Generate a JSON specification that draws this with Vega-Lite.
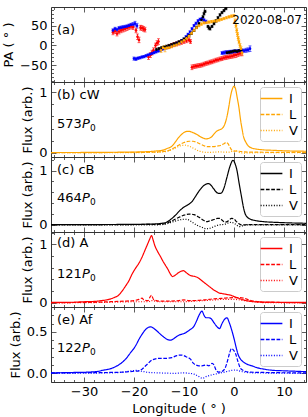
{
"$schema": "https://vega.github.io/schema/vega-lite/v6.json",
"padding": {"left": 2, "top": 3, "right": 4, "bottom": 2},
"bounds": "flush",
"spacing": 0,
"resolve": {"scale": {"strokeDash": "independent", "opacity": "independent", "x": "independent", "y": "independent"}, "legend": {"strokeDash": "independent", "opacity": "independent"}},
"datasets": {
"one": [{}],
"prof": [
{"p":"cW","s":"I","x":-36.6,"y":0.004},{"p":"cW","s":"I","x":-30,"y":0.005},{"p":"cW","s":"I","x":-25,"y":0.008},{"p":"cW","s":"I","x":-20,"y":0.012},{"p":"cW","s":"I","x":-17,"y":0.02},{"p":"cW","s":"I","x":-15.5,"y":0.03},{"p":"cW","s":"I","x":-14.4,"y":0.04},{"p":"cW","s":"I","x":-13.4,"y":0.07},{"p":"cW","s":"I","x":-12.4,"y":0.11},{"p":"cW","s":"I","x":-11.8,"y":0.17},{"p":"cW","s":"I","x":-11.1,"y":0.25},{"p":"cW","s":"I","x":-10.4,"y":0.31},{"p":"cW","s":"I","x":-9.6,"y":0.35},{"p":"cW","s":"I","x":-9.1,"y":0.355},{"p":"cW","s":"I","x":-8.4,"y":0.34},{"p":"cW","s":"I","x":-7.6,"y":0.31},{"p":"cW","s":"I","x":-6.8,"y":0.27},{"p":"cW","s":"I","x":-6.1,"y":0.24},{"p":"cW","s":"I","x":-5.6,"y":0.23},{"p":"cW","s":"I","x":-5,"y":0.24},{"p":"cW","s":"I","x":-4.4,"y":0.27},{"p":"cW","s":"I","x":-3.8,"y":0.33},{"p":"cW","s":"I","x":-3.4,"y":0.36},{"p":"cW","s":"I","x":-2.9,"y":0.38},{"p":"cW","s":"I","x":-2.4,"y":0.4},{"p":"cW","s":"I","x":-1.9,"y":0.46},{"p":"cW","s":"I","x":-1.4,"y":0.6},{"p":"cW","s":"I","x":-1,"y":0.78},{"p":"cW","s":"I","x":-0.7,"y":0.93},{"p":"cW","s":"I","x":-0.3,"y":1.06},{"p":"cW","s":"I","x":0,"y":1.1},{"p":"cW","s":"I","x":0.3,"y":1.06},{"p":"cW","s":"I","x":0.6,"y":0.93},{"p":"cW","s":"I","x":1,"y":0.74},{"p":"cW","s":"I","x":1.3,"y":0.55},{"p":"cW","s":"I","x":1.6,"y":0.4},{"p":"cW","s":"I","x":1.9,"y":0.27},{"p":"cW","s":"I","x":2.4,"y":0.17},{"p":"cW","s":"I","x":2.9,"y":0.11},{"p":"cW","s":"I","x":3.5,"y":0.08},{"p":"cW","s":"I","x":4.5,"y":0.06},{"p":"cW","s":"I","x":5.6,"y":0.05},{"p":"cW","s":"I","x":8,"y":0.04},{"p":"cW","s":"I","x":11,"y":0.03},{"p":"cW","s":"I","x":14.4,"y":0.025},
{"p":"cW","s":"L","x":-36.6,"y":0.003},{"p":"cW","s":"L","x":-20,"y":0.005},{"p":"cW","s":"L","x":-16,"y":0.01},{"p":"cW","s":"L","x":-14.5,"y":0.02},{"p":"cW","s":"L","x":-13,"y":0.04},{"p":"cW","s":"L","x":-12,"y":0.08},{"p":"cW","s":"L","x":-11,"y":0.13},{"p":"cW","s":"L","x":-10,"y":0.17},{"p":"cW","s":"L","x":-9,"y":0.19},{"p":"cW","s":"L","x":-8.2,"y":0.19},{"p":"cW","s":"L","x":-7.4,"y":0.17},{"p":"cW","s":"L","x":-6.6,"y":0.14},{"p":"cW","s":"L","x":-5.8,"y":0.11},{"p":"cW","s":"L","x":-5,"y":0.1},{"p":"cW","s":"L","x":-4.2,"y":0.1},{"p":"cW","s":"L","x":-3.4,"y":0.11},{"p":"cW","s":"L","x":-2.7,"y":0.12},{"p":"cW","s":"L","x":-2,"y":0.15},{"p":"cW","s":"L","x":-1.6,"y":0.17},{"p":"cW","s":"L","x":-1.2,"y":0.15},{"p":"cW","s":"L","x":-0.8,"y":0.09},{"p":"cW","s":"L","x":-0.4,"y":0.04},{"p":"cW","s":"L","x":0,"y":0.025},{"p":"cW","s":"L","x":0.5,"y":0.03},{"p":"cW","s":"L","x":1,"y":0.025},{"p":"cW","s":"L","x":2,"y":0.015},{"p":"cW","s":"L","x":4,"y":0.01},{"p":"cW","s":"L","x":14.4,"y":0.005},
{"p":"cW","s":"V","x":-36.6,"y":0},{"p":"cW","s":"V","x":-16,"y":0.005},{"p":"cW","s":"V","x":-14,"y":0.015},{"p":"cW","s":"V","x":-12.5,"y":0.05},{"p":"cW","s":"V","x":-11.5,"y":0.09},{"p":"cW","s":"V","x":-10.5,"y":0.12},{"p":"cW","s":"V","x":-9.8,"y":0.125},{"p":"cW","s":"V","x":-9,"y":0.11},{"p":"cW","s":"V","x":-8,"y":0.07},{"p":"cW","s":"V","x":-7,"y":0.03},{"p":"cW","s":"V","x":-6,"y":0.01},{"p":"cW","s":"V","x":-5,"y":0.005},{"p":"cW","s":"V","x":-4,"y":0.01},{"p":"cW","s":"V","x":-3,"y":0.015},{"p":"cW","s":"V","x":-2,"y":0.01},{"p":"cW","s":"V","x":-1,"y":0.01},{"p":"cW","s":"V","x":0,"y":0.03},{"p":"cW","s":"V","x":0.6,"y":0.025},{"p":"cW","s":"V","x":1.2,"y":0},{"p":"cW","s":"V","x":2,"y":-0.005},{"p":"cW","s":"V","x":4,"y":0},{"p":"cW","s":"V","x":14.4,"y":0},
{"p":"cB","s":"I","x":-36.6,"y":0.005},{"p":"cB","s":"I","x":-30,"y":0.006},{"p":"cB","s":"I","x":-25,"y":0.008},{"p":"cB","s":"I","x":-20,"y":0.01},{"p":"cB","s":"I","x":-17,"y":0.015},{"p":"cB","s":"I","x":-15.5,"y":0.02},{"p":"cB","s":"I","x":-14.4,"y":0.03},{"p":"cB","s":"I","x":-13.5,"y":0.05},{"p":"cB","s":"I","x":-13.1,"y":0.07},{"p":"cB","s":"I","x":-12.4,"y":0.12},{"p":"cB","s":"I","x":-11.7,"y":0.18},{"p":"cB","s":"I","x":-11,"y":0.25},{"p":"cB","s":"I","x":-10.4,"y":0.3},{"p":"cB","s":"I","x":-9.8,"y":0.34},{"p":"cB","s":"I","x":-9.4,"y":0.36},{"p":"cB","s":"I","x":-8.9,"y":0.39},{"p":"cB","s":"I","x":-8.4,"y":0.43},{"p":"cB","s":"I","x":-7.8,"y":0.51},{"p":"cB","s":"I","x":-7.1,"y":0.61},{"p":"cB","s":"I","x":-6.6,"y":0.67},{"p":"cB","s":"I","x":-6.1,"y":0.72},{"p":"cB","s":"I","x":-5.6,"y":0.75},{"p":"cB","s":"I","x":-5.1,"y":0.76},{"p":"cB","s":"I","x":-4.6,"y":0.73},{"p":"cB","s":"I","x":-4.1,"y":0.67},{"p":"cB","s":"I","x":-3.6,"y":0.61},{"p":"cB","s":"I","x":-3.1,"y":0.58},{"p":"cB","s":"I","x":-2.7,"y":0.58},{"p":"cB","s":"I","x":-2.4,"y":0.6},{"p":"cB","s":"I","x":-2,"y":0.68},{"p":"cB","s":"I","x":-1.4,"y":0.88},{"p":"cB","s":"I","x":-0.8,"y":1.08},{"p":"cB","s":"I","x":-0.2,"y":1.19},{"p":"cB","s":"I","x":0.2,"y":1.13},{"p":"cB","s":"I","x":0.6,"y":1},{"p":"cB","s":"I","x":1,"y":0.78},{"p":"cB","s":"I","x":1.5,"y":0.52},{"p":"cB","s":"I","x":1.9,"y":0.32},{"p":"cB","s":"I","x":2.3,"y":0.19},{"p":"cB","s":"I","x":3,"y":0.12},{"p":"cB","s":"I","x":4.3,"y":0.08},{"p":"cB","s":"I","x":6,"y":0.06},{"p":"cB","s":"I","x":9,"y":0.045},{"p":"cB","s":"I","x":14.4,"y":0.03},
{"p":"cB","s":"L","x":-36.6,"y":0.003},{"p":"cB","s":"L","x":-16,"y":0.01},{"p":"cB","s":"L","x":-14,"y":0.02},{"p":"cB","s":"L","x":-12.5,"y":0.07},{"p":"cB","s":"L","x":-11,"y":0.14},{"p":"cB","s":"L","x":-10,"y":0.18},{"p":"cB","s":"L","x":-9,"y":0.2},{"p":"cB","s":"L","x":-8,"y":0.19},{"p":"cB","s":"L","x":-7,"y":0.14},{"p":"cB","s":"L","x":-6,"y":0.08},{"p":"cB","s":"L","x":-5.5,"y":0.06},{"p":"cB","s":"L","x":-5,"y":0.07},{"p":"cB","s":"L","x":-4,"y":0.1},{"p":"cB","s":"L","x":-3.3,"y":0.12},{"p":"cB","s":"L","x":-2.8,"y":0.12},{"p":"cB","s":"L","x":-2.3,"y":0.08},{"p":"cB","s":"L","x":-1.8,"y":0.05},{"p":"cB","s":"L","x":-1.2,"y":0.07},{"p":"cB","s":"L","x":-0.5,"y":0.12},{"p":"cB","s":"L","x":0,"y":0.11},{"p":"cB","s":"L","x":0.5,"y":0.06},{"p":"cB","s":"L","x":1,"y":0.02},{"p":"cB","s":"L","x":1.5,"y":0},{"p":"cB","s":"L","x":3,"y":0.005},{"p":"cB","s":"L","x":14.4,"y":0.005},
{"p":"cB","s":"V","x":-36.6,"y":0},{"p":"cB","s":"V","x":-16,"y":0},{"p":"cB","s":"V","x":-14,"y":0.01},{"p":"cB","s":"V","x":-12.5,"y":0.05},{"p":"cB","s":"V","x":-11,"y":0.09},{"p":"cB","s":"V","x":-10,"y":0.105},{"p":"cB","s":"V","x":-9.3,"y":0.1},{"p":"cB","s":"V","x":-8.5,"y":0.06},{"p":"cB","s":"V","x":-7.5,"y":0},{"p":"cB","s":"V","x":-6.5,"y":-0.04},{"p":"cB","s":"V","x":-5.5,"y":-0.07},{"p":"cB","s":"V","x":-5,"y":-0.065},{"p":"cB","s":"V","x":-4,"y":-0.03},{"p":"cB","s":"V","x":-3,"y":0},{"p":"cB","s":"V","x":-2,"y":0.01},{"p":"cB","s":"V","x":-1,"y":0.04},{"p":"cB","s":"V","x":-0.5,"y":0.05},{"p":"cB","s":"V","x":0,"y":0.03},{"p":"cB","s":"V","x":0.5,"y":0},{"p":"cB","s":"V","x":1,"y":-0.03},{"p":"cB","s":"V","x":1.5,"y":-0.02},{"p":"cB","s":"V","x":2.5,"y":0},{"p":"cB","s":"V","x":14.4,"y":0},
{"p":"A","s":"I","x":-36.6,"y":0.01},{"p":"A","s":"I","x":-33,"y":0.01},{"p":"A","s":"I","x":-30,"y":0.02},{"p":"A","s":"I","x":-28,"y":0.025},{"p":"A","s":"I","x":-26.4,"y":0.04},{"p":"A","s":"I","x":-25,"y":0.06},{"p":"A","s":"I","x":-24,"y":0.09},{"p":"A","s":"I","x":-23.1,"y":0.13},{"p":"A","s":"I","x":-22.4,"y":0.2},{"p":"A","s":"I","x":-21.6,"y":0.3},{"p":"A","s":"I","x":-21,"y":0.38},{"p":"A","s":"I","x":-20.4,"y":0.49},{"p":"A","s":"I","x":-19.7,"y":0.59},{"p":"A","s":"I","x":-19,"y":0.68},{"p":"A","s":"I","x":-18.4,"y":0.78},{"p":"A","s":"I","x":-17.8,"y":0.9},{"p":"A","s":"I","x":-17.2,"y":1.02},{"p":"A","s":"I","x":-16.8,"y":1.1},{"p":"A","s":"I","x":-16.5,"y":1.15},{"p":"A","s":"I","x":-16.2,"y":1.08},{"p":"A","s":"I","x":-15.8,"y":0.97},{"p":"A","s":"I","x":-15.3,"y":0.88},{"p":"A","s":"I","x":-14.7,"y":0.79},{"p":"A","s":"I","x":-14.2,"y":0.71},{"p":"A","s":"I","x":-13.7,"y":0.64},{"p":"A","s":"I","x":-13.2,"y":0.57},{"p":"A","s":"I","x":-12.7,"y":0.49},{"p":"A","s":"I","x":-12.3,"y":0.45},{"p":"A","s":"I","x":-11.8,"y":0.47},{"p":"A","s":"I","x":-11.2,"y":0.51},{"p":"A","s":"I","x":-10.6,"y":0.54},{"p":"A","s":"I","x":-10.1,"y":0.55},{"p":"A","s":"I","x":-9.6,"y":0.52},{"p":"A","s":"I","x":-9,"y":0.48},{"p":"A","s":"I","x":-8.4,"y":0.46},{"p":"A","s":"I","x":-7.8,"y":0.45},{"p":"A","s":"I","x":-7.2,"y":0.43},{"p":"A","s":"I","x":-6.6,"y":0.39},{"p":"A","s":"I","x":-6,"y":0.35},{"p":"A","s":"I","x":-5.4,"y":0.31},{"p":"A","s":"I","x":-4.8,"y":0.27},{"p":"A","s":"I","x":-4.2,"y":0.23},{"p":"A","s":"I","x":-3.6,"y":0.2},{"p":"A","s":"I","x":-3,"y":0.17},{"p":"A","s":"I","x":-2.4,"y":0.16},{"p":"A","s":"I","x":-1.8,"y":0.15},{"p":"A","s":"I","x":-1.2,"y":0.14},{"p":"A","s":"I","x":-0.6,"y":0.13},{"p":"A","s":"I","x":0,"y":0.11},{"p":"A","s":"I","x":0.6,"y":0.09},{"p":"A","s":"I","x":1.2,"y":0.07},{"p":"A","s":"I","x":2,"y":0.05},{"p":"A","s":"I","x":3,"y":0.03},{"p":"A","s":"I","x":4,"y":0.02},{"p":"A","s":"I","x":6,"y":0.015},{"p":"A","s":"I","x":10,"y":0.01},{"p":"A","s":"I","x":14.4,"y":0.01},
{"p":"A","s":"L","x":-36.6,"y":0.005},{"p":"A","s":"L","x":-28,"y":0.01},{"p":"A","s":"L","x":-25,"y":0.02},{"p":"A","s":"L","x":-22,"y":0.03},{"p":"A","s":"L","x":-20,"y":0.04},{"p":"A","s":"L","x":-19,"y":0.06},{"p":"A","s":"L","x":-18.4,"y":0.08},{"p":"A","s":"L","x":-18,"y":0.05},{"p":"A","s":"L","x":-17.2,"y":0.04},{"p":"A","s":"L","x":-16.8,"y":0.1},{"p":"A","s":"L","x":-16.5,"y":0.13},{"p":"A","s":"L","x":-16.1,"y":0.06},{"p":"A","s":"L","x":-15,"y":0.03},{"p":"A","s":"L","x":-13,"y":0.03},{"p":"A","s":"L","x":-11,"y":0.04},{"p":"A","s":"L","x":-10,"y":0.05},{"p":"A","s":"L","x":-9,"y":0.04},{"p":"A","s":"L","x":-8,"y":0.04},{"p":"A","s":"L","x":-6,"y":0.05},{"p":"A","s":"L","x":-4,"y":0.07},{"p":"A","s":"L","x":-2,"y":0.08},{"p":"A","s":"L","x":0,"y":0.09},{"p":"A","s":"L","x":1,"y":0.09},{"p":"A","s":"L","x":2,"y":0.08},{"p":"A","s":"L","x":3,"y":0.05},{"p":"A","s":"L","x":4,"y":0.03},{"p":"A","s":"L","x":6,"y":0.01},{"p":"A","s":"L","x":14.4,"y":0.005},
{"p":"A","s":"V","x":-36.6,"y":0},{"p":"A","s":"V","x":-25,"y":0.01},{"p":"A","s":"V","x":-20,"y":0.02},{"p":"A","s":"V","x":-17,"y":0.02},{"p":"A","s":"V","x":-16.5,"y":0.04},{"p":"A","s":"V","x":-15,"y":0.02},{"p":"A","s":"V","x":-10,"y":0.02},{"p":"A","s":"V","x":-8,"y":0.03},{"p":"A","s":"V","x":-6,"y":0.04},{"p":"A","s":"V","x":-4,"y":0.05},{"p":"A","s":"V","x":-2,"y":0.06},{"p":"A","s":"V","x":0,"y":0.06},{"p":"A","s":"V","x":2,"y":0.04},{"p":"A","s":"V","x":4,"y":0.02},{"p":"A","s":"V","x":6,"y":0.005},{"p":"A","s":"V","x":14.4,"y":0},
{"p":"Af","s":"I","x":-36.6,"y":0.005},{"p":"Af","s":"I","x":-32,"y":0.01},{"p":"Af","s":"I","x":-29,"y":0.015},{"p":"Af","s":"I","x":-27,"y":0.025},{"p":"Af","s":"I","x":-26.4,"y":0.035},{"p":"Af","s":"I","x":-25,"y":0.05},{"p":"Af","s":"I","x":-23.7,"y":0.08},{"p":"Af","s":"I","x":-22.4,"y":0.13},{"p":"Af","s":"I","x":-21.7,"y":0.17},{"p":"Af","s":"I","x":-20.8,"y":0.24},{"p":"Af","s":"I","x":-19.7,"y":0.33},{"p":"Af","s":"I","x":-19,"y":0.41},{"p":"Af","s":"I","x":-18.4,"y":0.47},{"p":"Af","s":"I","x":-17.8,"y":0.52},{"p":"Af","s":"I","x":-17.1,"y":0.555},{"p":"Af","s":"I","x":-16.6,"y":0.56},{"p":"Af","s":"I","x":-16,"y":0.54},{"p":"Af","s":"I","x":-15.4,"y":0.51},{"p":"Af","s":"I","x":-14.7,"y":0.47},{"p":"Af","s":"I","x":-14.1,"y":0.44},{"p":"Af","s":"I","x":-13.4,"y":0.41},{"p":"Af","s":"I","x":-12.7,"y":0.4},{"p":"Af","s":"I","x":-12,"y":0.42},{"p":"Af","s":"I","x":-11.3,"y":0.45},{"p":"Af","s":"I","x":-10.6,"y":0.47},{"p":"Af","s":"I","x":-10,"y":0.48},{"p":"Af","s":"I","x":-9.4,"y":0.5},{"p":"Af","s":"I","x":-8.7,"y":0.53},{"p":"Af","s":"I","x":-8.1,"y":0.56},{"p":"Af","s":"I","x":-7.5,"y":0.63},{"p":"Af","s":"I","x":-7,"y":0.7},{"p":"Af","s":"I","x":-6.4,"y":0.75},{"p":"Af","s":"I","x":-6,"y":0.7},{"p":"Af","s":"I","x":-5.6,"y":0.67},{"p":"Af","s":"I","x":-5,"y":0.67},{"p":"Af","s":"I","x":-4.6,"y":0.66},{"p":"Af","s":"I","x":-4,"y":0.61},{"p":"Af","s":"I","x":-3.5,"y":0.57},{"p":"Af","s":"I","x":-2.9,"y":0.54},{"p":"Af","s":"I","x":-2.4,"y":0.6},{"p":"Af","s":"I","x":-1.9,"y":0.65},{"p":"Af","s":"I","x":-1.4,"y":0.67},{"p":"Af","s":"I","x":-1,"y":0.62},{"p":"Af","s":"I","x":-0.5,"y":0.53},{"p":"Af","s":"I","x":0,"y":0.42},{"p":"Af","s":"I","x":0.4,"y":0.32},{"p":"Af","s":"I","x":0.8,"y":0.23},{"p":"Af","s":"I","x":1.2,"y":0.18},{"p":"Af","s":"I","x":1.8,"y":0.14},{"p":"Af","s":"I","x":2.6,"y":0.11},{"p":"Af","s":"I","x":3.6,"y":0.09},{"p":"Af","s":"I","x":4.5,"y":0.07},{"p":"Af","s":"I","x":6,"y":0.05},{"p":"Af","s":"I","x":8,"y":0.035},{"p":"Af","s":"I","x":10,"y":0.03},{"p":"Af","s":"I","x":14.4,"y":0.02},
{"p":"Af","s":"L","x":-36.6,"y":0.005},{"p":"Af","s":"L","x":-25,"y":0.01},{"p":"Af","s":"L","x":-22,"y":0.015},{"p":"Af","s":"L","x":-20,"y":0.025},{"p":"Af","s":"L","x":-19,"y":0.03},{"p":"Af","s":"L","x":-18.4,"y":0.05},{"p":"Af","s":"L","x":-17.5,"y":0.1},{"p":"Af","s":"L","x":-16.4,"y":0.16},{"p":"Af","s":"L","x":-15.1,"y":0.18},{"p":"Af","s":"L","x":-13.8,"y":0.18},{"p":"Af","s":"L","x":-12.4,"y":0.19},{"p":"Af","s":"L","x":-11.6,"y":0.21},{"p":"Af","s":"L","x":-11,"y":0.22},{"p":"Af","s":"L","x":-10.4,"y":0.22},{"p":"Af","s":"L","x":-9.6,"y":0.2},{"p":"Af","s":"L","x":-8.7,"y":0.17},{"p":"Af","s":"L","x":-8.1,"y":0.12},{"p":"Af","s":"L","x":-7.6,"y":0.1},{"p":"Af","s":"L","x":-7,"y":0.09},{"p":"Af","s":"L","x":-6.4,"y":0.09},{"p":"Af","s":"L","x":-5.6,"y":0.1},{"p":"Af","s":"L","x":-5,"y":0.09},{"p":"Af","s":"L","x":-4.4,"y":0.12},{"p":"Af","s":"L","x":-4,"y":0.1},{"p":"Af","s":"L","x":-3.6,"y":0.04},{"p":"Af","s":"L","x":-3.1,"y":0.015},{"p":"Af","s":"L","x":-2.5,"y":0.02},{"p":"Af","s":"L","x":-1.8,"y":0.06},{"p":"Af","s":"L","x":-1.3,"y":0.15},{"p":"Af","s":"L","x":-0.9,"y":0.24},{"p":"Af","s":"L","x":-0.5,"y":0.3},{"p":"Af","s":"L","x":-0.1,"y":0.28},{"p":"Af","s":"L","x":0.3,"y":0.24},{"p":"Af","s":"L","x":0.8,"y":0.14},{"p":"Af","s":"L","x":1.3,"y":0.06},{"p":"Af","s":"L","x":2,"y":0.03},{"p":"Af","s":"L","x":3,"y":0.015},{"p":"Af","s":"L","x":6,"y":0.01},{"p":"Af","s":"L","x":14.4,"y":0.005},
{"p":"Af","s":"V","x":-36.6,"y":0},{"p":"Af","s":"V","x":-25,"y":0.005},{"p":"Af","s":"V","x":-22,"y":0.015},{"p":"Af","s":"V","x":-20.5,"y":0.03},{"p":"Af","s":"V","x":-19.5,"y":0.035},{"p":"Af","s":"V","x":-18.5,"y":0.025},{"p":"Af","s":"V","x":-17,"y":0.01},{"p":"Af","s":"V","x":-15,"y":0.005},{"p":"Af","s":"V","x":-12,"y":0},{"p":"Af","s":"V","x":-10,"y":0.005},{"p":"Af","s":"V","x":-9,"y":0},{"p":"Af","s":"V","x":-8,"y":-0.01},{"p":"Af","s":"V","x":-7,"y":-0.04},{"p":"Af","s":"V","x":-6.3,"y":-0.06},{"p":"Af","s":"V","x":-5.6,"y":-0.04},{"p":"Af","s":"V","x":-4.5,"y":-0.02},{"p":"Af","s":"V","x":-3,"y":0},{"p":"Af","s":"V","x":-1.5,"y":0.02},{"p":"Af","s":"V","x":-0.5,"y":0.035},{"p":"Af","s":"V","x":0.3,"y":0.04},{"p":"Af","s":"V","x":1,"y":0.03},{"p":"Af","s":"V","x":2,"y":0.015},{"p":"Af","s":"V","x":4,"y":0.005},{"p":"Af","s":"V","x":14.4,"y":0}
],
"pa": [
{"p":"A","x":-24.2,"pa":33,"e":6},{"p":"A","x":-23.8,"pa":36,"e":6},{"p":"A","x":-23.4,"pa":30,"e":6},{"p":"A","x":-23,"pa":35,"e":6},{"p":"A","x":-22.6,"pa":38,"e":6},{"p":"A","x":-22.2,"pa":40,"e":6},{"p":"A","x":-21.8,"pa":42,"e":6},{"p":"A","x":-21.4,"pa":44,"e":6},{"p":"A","x":-21,"pa":46,"e":6},{"p":"A","x":-20.6,"pa":48,"e":6},{"p":"A","x":-20.2,"pa":46,"e":6},{"p":"A","x":-19.6,"pa":38,"e":6},{"p":"A","x":-19.3,"pa":22,"e":7},{"p":"A","x":-19,"pa":14,"e":7},{"p":"A","x":-18.7,"pa":45,"e":6},{"p":"A","x":-18.4,"pa":44,"e":6},{"p":"A","x":-18.1,"pa":42,"e":6},{"p":"A","x":-17.8,"pa":40,"e":6},
{"p":"A","x":-17.1,"pa":-29,"e":6},{"p":"A","x":-16.7,"pa":-24,"e":6},{"p":"A","x":-16.4,"pa":-18,"e":6},{"p":"A","x":-16.1,"pa":-12,"e":6},{"p":"A","x":-15.7,"pa":0,"e":6},{"p":"A","x":-15.4,"pa":6,"e":6},{"p":"A","x":-15.1,"pa":10,"e":7},
{"p":"A","x":-13,"pa":-3,"e":5},{"p":"A","x":-12.5,"pa":0,"e":5},{"p":"A","x":-12,"pa":2,"e":5},{"p":"A","x":-11.5,"pa":4,"e":5},{"p":"A","x":-11,"pa":6,"e":5},{"p":"A","x":-10.5,"pa":8,"e":5},{"p":"A","x":-10,"pa":10,"e":5},{"p":"A","x":-9.5,"pa":12,"e":5},{"p":"A","x":-9,"pa":14,"e":5},{"p":"A","x":-8.7,"pa":10,"e":5},
{"p":"A","x":-8.4,"pa":-55,"e":6},{"p":"A","x":-8,"pa":-53,"e":5},{"p":"A","x":-7.6,"pa":-52,"e":5},{"p":"A","x":-7.2,"pa":-51,"e":5},{"p":"A","x":-6.8,"pa":-50,"e":5},{"p":"A","x":-6.4,"pa":-49,"e":5},{"p":"A","x":-6,"pa":-47,"e":5},{"p":"A","x":-5.6,"pa":-45,"e":5},{"p":"A","x":-5.2,"pa":-44,"e":5},{"p":"A","x":-4.8,"pa":-42,"e":5},{"p":"A","x":-4.4,"pa":-41,"e":5},{"p":"A","x":-4,"pa":-39,"e":5},{"p":"A","x":-3.6,"pa":-37,"e":5},{"p":"A","x":-3.2,"pa":-36,"e":5},{"p":"A","x":-2.8,"pa":-34,"e":5},{"p":"A","x":-2.4,"pa":-33,"e":5},{"p":"A","x":-2,"pa":-31,"e":5},{"p":"A","x":-1.6,"pa":-30,"e":5},{"p":"A","x":-1.2,"pa":-29,"e":5},{"p":"A","x":-0.8,"pa":-28,"e":5},{"p":"A","x":-0.4,"pa":-27,"e":5},{"p":"A","x":0,"pa":-25,"e":6},{"p":"A","x":0.4,"pa":-24,"e":6},{"p":"A","x":0.8,"pa":-22,"e":6},{"p":"A","x":1.2,"pa":-20,"e":6},{"p":"A","x":1.6,"pa":-19,"e":7},
{"p":"Af","x":-24.2,"pa":38,"e":4},{"p":"Af","x":-23.8,"pa":42,"e":4},{"p":"Af","x":-23.4,"pa":40,"e":4},{"p":"Af","x":-23,"pa":44,"e":4},{"p":"Af","x":-22.6,"pa":45,"e":4},{"p":"Af","x":-22.2,"pa":46,"e":4},{"p":"Af","x":-21.8,"pa":47,"e":4},{"p":"Af","x":-21.4,"pa":48,"e":4},{"p":"Af","x":-21,"pa":50,"e":4},{"p":"Af","x":-20.6,"pa":52,"e":4},{"p":"Af","x":-20.2,"pa":53,"e":5},{"p":"Af","x":-19.8,"pa":55,"e":6},{"p":"Af","x":-19.4,"pa":50,"e":6},
{"p":"Af","x":-20,"pa":-33,"e":4},{"p":"Af","x":-19.6,"pa":-34,"e":4},{"p":"Af","x":-19.2,"pa":-32,"e":3},{"p":"Af","x":-18.8,"pa":-31,"e":3},{"p":"Af","x":-18.4,"pa":-29,"e":3},{"p":"Af","x":-18,"pa":-28,"e":3},{"p":"Af","x":-17.6,"pa":-26,"e":3},{"p":"Af","x":-17.2,"pa":-24,"e":3},{"p":"Af","x":-16.8,"pa":-22,"e":3},{"p":"Af","x":-16.4,"pa":-20,"e":3},{"p":"Af","x":-16,"pa":-18,"e":3},{"p":"Af","x":-15.6,"pa":-16,"e":3},{"p":"Af","x":-15.2,"pa":-14,"e":3},{"p":"Af","x":-14.8,"pa":-12,"e":3},{"p":"Af","x":-14.4,"pa":-10,"e":3},{"p":"Af","x":-14,"pa":-8,"e":3},{"p":"Af","x":-13.6,"pa":-6,"e":3},{"p":"Af","x":-13.2,"pa":-4,"e":3},{"p":"Af","x":-12.8,"pa":-2,"e":3},{"p":"Af","x":-12.4,"pa":0,"e":3},{"p":"Af","x":-12,"pa":2,"e":3},{"p":"Af","x":-11.6,"pa":4,"e":3},{"p":"Af","x":-11.2,"pa":6,"e":3},{"p":"Af","x":-10.8,"pa":8,"e":3},{"p":"Af","x":-10.4,"pa":12,"e":3},{"p":"Af","x":-10,"pa":16,"e":3},{"p":"Af","x":-9.6,"pa":22,"e":3},{"p":"Af","x":-9.2,"pa":28,"e":3},{"p":"Af","x":-8.8,"pa":34,"e":3},{"p":"Af","x":-8.4,"pa":42,"e":3},{"p":"Af","x":-8,"pa":50,"e":3},{"p":"Af","x":-7.6,"pa":56,"e":3},{"p":"Af","x":-7.2,"pa":62,"e":3},{"p":"Af","x":-6.8,"pa":66,"e":3},{"p":"Af","x":-6.4,"pa":68,"e":3},{"p":"Af","x":-6,"pa":64,"e":3},{"p":"Af","x":-5.6,"pa":60,"e":4},
{"p":"Af","x":-2.4,"pa":-19,"e":4},{"p":"Af","x":-2,"pa":-18,"e":4},{"p":"Af","x":-1.6,"pa":-17,"e":4},{"p":"Af","x":-1.2,"pa":-17,"e":4},{"p":"Af","x":-0.8,"pa":-16,"e":4},{"p":"Af","x":-0.4,"pa":-16,"e":4},{"p":"Af","x":0,"pa":-15,"e":4},{"p":"Af","x":0.4,"pa":-15,"e":4},{"p":"Af","x":0.8,"pa":-14,"e":4},{"p":"Af","x":1.2,"pa":-14,"e":4},{"p":"Af","x":1.6,"pa":-13,"e":4},{"p":"Af","x":2,"pa":-13,"e":4},{"p":"Af","x":2.4,"pa":-12,"e":5},{"p":"Af","x":2.8,"pa":-11,"e":5},{"p":"Af","x":3.2,"pa":-8,"e":7},
{"p":"cB","x":-15.5,"pa":-10,"e":3},{"p":"cB","x":-15,"pa":-8,"e":3},{"p":"cB","x":-14.5,"pa":-6,"e":3},{"p":"cB","x":-14,"pa":-4,"e":3},{"p":"cB","x":-13.5,"pa":-2,"e":3},{"p":"cB","x":-13,"pa":0,"e":3},{"p":"cB","x":-12.5,"pa":2,"e":3},{"p":"cB","x":-12,"pa":4,"e":3},{"p":"cB","x":-11.5,"pa":6,"e":3},{"p":"cB","x":-11,"pa":9,"e":3},{"p":"cB","x":-10.5,"pa":12,"e":3},{"p":"cB","x":-10,"pa":16,"e":3},{"p":"cB","x":-9.5,"pa":20,"e":3},{"p":"cB","x":-9,"pa":25,"e":3},{"p":"cB","x":-8.5,"pa":31,"e":3},{"p":"cB","x":-8,"pa":38,"e":3},{"p":"cB","x":-7.5,"pa":46,"e":3},{"p":"cB","x":-7,"pa":55,"e":3},{"p":"cB","x":-6.5,"pa":65,"e":3},{"p":"cB","x":-6.2,"pa":72,"e":3},{"p":"cB","x":-6,"pa":80,"e":3},{"p":"cB","x":-5.8,"pa":86,"e":3},
{"p":"cB","x":-5.2,"pa":48,"e":3},{"p":"cB","x":-5,"pa":44,"e":3},{"p":"cB","x":-4.8,"pa":42,"e":3},{"p":"cB","x":-4.4,"pa":48,"e":3},{"p":"cB","x":-4,"pa":55,"e":3},{"p":"cB","x":-3.6,"pa":62,"e":3},{"p":"cB","x":-3.2,"pa":70,"e":3},{"p":"cB","x":-2.8,"pa":77,"e":3},{"p":"cB","x":-2.4,"pa":83,"e":3},{"p":"cB","x":-2,"pa":88,"e":3},{"p":"cB","x":-1.6,"pa":93,"e":3},
{"p":"cB","x":-1.4,"pa":-18,"e":3},{"p":"cB","x":-1,"pa":-17,"e":3},{"p":"cB","x":-0.6,"pa":-16,"e":3},{"p":"cB","x":-0.2,"pa":-15,"e":3},{"p":"cB","x":0.2,"pa":-14,"e":3},{"p":"cB","x":0.6,"pa":-15,"e":3},{"p":"cB","x":1,"pa":-13,"e":3},{"p":"cB","x":1.4,"pa":-12,"e":3},
{"p":"cW","x":-14.6,"pa":-12,"e":6},{"p":"cW","x":-14.2,"pa":-6,"e":4},{"p":"cW","x":-13.8,"pa":-8,"e":8},{"p":"cW","x":-13.4,"pa":-6,"e":3},{"p":"cW","x":-13,"pa":-5,"e":3},{"p":"cW","x":-12.5,"pa":-3,"e":3},{"p":"cW","x":-12,"pa":0,"e":3},{"p":"cW","x":-11.5,"pa":2,"e":3},{"p":"cW","x":-11,"pa":5,"e":3},{"p":"cW","x":-10.5,"pa":9,"e":3},{"p":"cW","x":-10,"pa":13,"e":3},{"p":"cW","x":-9.5,"pa":18,"e":3},{"p":"cW","x":-9,"pa":24,"e":3},{"p":"cW","x":-8.5,"pa":31,"e":3},{"p":"cW","x":-8,"pa":38,"e":3},{"p":"cW","x":-7.5,"pa":45,"e":3},{"p":"cW","x":-7,"pa":50,"e":3},{"p":"cW","x":-6.5,"pa":54,"e":3},{"p":"cW","x":-6,"pa":57,"e":3},{"p":"cW","x":-5.5,"pa":58,"e":3},{"p":"cW","x":-5,"pa":59,"e":3},{"p":"cW","x":-4.5,"pa":60,"e":3},{"p":"cW","x":-4,"pa":61,"e":3},{"p":"cW","x":-3.5,"pa":62,"e":3},{"p":"cW","x":-3,"pa":64,"e":3},{"p":"cW","x":-2.5,"pa":66,"e":3},{"p":"cW","x":-2,"pa":68,"e":3},{"p":"cW","x":-1.5,"pa":70,"e":3},{"p":"cW","x":-1,"pa":72,"e":3},{"p":"cW","x":-0.5,"pa":74,"e":3},{"p":"cW","x":0,"pa":75,"e":3},
{"p":"cW","x":0.2,"pa":62,"e":5},{"p":"cW","x":0.4,"pa":50,"e":5},{"p":"cW","x":0.55,"pa":38,"e":5},{"p":"cW","x":0.7,"pa":28,"e":5},{"p":"cW","x":0.85,"pa":18,"e":5},{"p":"cW","x":1,"pa":9,"e":5},{"p":"cW","x":1.2,"pa":0,"e":5},{"p":"cW","x":1.4,"pa":-8,"e":5},{"p":"cW","x":1.6,"pa":-18,"e":6}
]
},
"vconcat": [
{
"width": 255, "height": 75,
"layer": [
{"data": {"name": "pa"}, "mark": {"type": "errorbar", "ticks": {"size": 3}, "thickness": 0.8},
 "encoding": {"x": {"field": "x", "type": "quantitative", "scale": {"domain": [-36.6, 14.4], "nice": false, "zero": false}, "axis": null},
  "y": {"field": "pa", "type": "quantitative", "scale": {"domain": [-92, 97], "nice": false, "zero": false}, "axis": null},
  "yError": {"field": "e"},
  "color": {"field": "p", "type": "nominal", "scale": {"domain": ["A", "Af", "cB", "cW"], "range": ["#ff0000", "#0000ff", "#000000", "#ffa500"]}, "legend": null}}},
{"data": {"name": "pa"}, "mark": {"type": "point", "filled": true, "size": 7, "opacity": 1},
 "encoding": {"x": {"field": "x", "type": "quantitative", "scale": {"domain": [-36.6, 14.4], "nice": false, "zero": false},
   "axis": {"orient": "bottom", "values": [-36,-34,-32,-30,-28,-26,-24,-22,-20,-18,-16,-14,-12,-10,-8,-6,-4,-2,0,2,4,6,8,10,12,14], "labels": false, "title": null, "tickSize": {"condition": {"test": "datum.value % 10 === 0", "value": -5}, "value": -2.5}}},
  "y": {"field": "pa", "type": "quantitative", "scale": {"domain": [-92, 97], "nice": false, "zero": false},
   "axis": {"orient": "left", "values": [-90,-80,-70,-60,-50,-40,-30,-20,-10,0,10,20,30,40,50,60,70,80,90], "labelExpr": "datum.value % 50 === 0 ? datum.label : ''", "labelOverlap": false, "title": "PA ( ° )", "tickSize": {"condition": {"test": "datum.value % 50 === 0", "value": -5}, "value": -2.5}}},
  "color": {"field": "p", "type": "nominal", "scale": {"domain": ["A", "Af", "cB", "cW"], "range": ["#ff0000", "#0000ff", "#000000", "#ffa500"]}, "legend": null}}},
{"data": {"name": "one"}, "mark": {"type": "text", "text": "(a)", "align": "left", "baseline": "middle", "fontSize": 13},
 "encoding": {"x": {"datum": -35.4, "type": "quantitative",
   "axis": {"orient": "top", "values": [-36,-34,-32,-30,-28,-26,-24,-22,-20,-18,-16,-14,-12,-10,-8,-6,-4,-2,0,2,4,6,8,10,12,14], "labels": false, "title": null, "tickSize": {"condition": {"test": "datum.value % 10 === 0", "value": -5}, "value": -2.5}}},
  "y": {"datum": 39, "type": "quantitative",
   "axis": {"orient": "right", "values": [-90,-80,-70,-60,-50,-40,-30,-20,-10,0,10,20,30,40,50,60,70,80,90], "labels": false, "title": null, "tickSize": {"condition": {"test": "datum.value % 50 === 0", "value": -5}, "value": -2.5}}}}},
{"data": {"name": "one"}, "mark": {"type": "text", "text": "2020-08-07", "align": "right", "baseline": "middle", "fontSize": 12},
 "encoding": {"x": {"datum": 13.6, "type": "quantitative", "axis": null}, "y": {"datum": 65, "type": "quantitative", "axis": null}}}
],
"resolve": {"axis": {"x": "independent", "y": "independent"}}
},
{
"width": 255, "height": 75,
"layer": [
{"data": {"name": "prof"}, "transform": [{"filter": "datum.p === 'cW'"}], "mark": {"type": "line", "color": "#ffa500", "strokeWidth": 1.2, "interpolate": "monotone"},
 "encoding": {"x": {"field": "x", "type": "quantitative", "scale": {"domain": [-36.6, 14.4], "nice": false, "zero": false},
   "axis": {"orient": "bottom", "values": [-36,-34,-32,-30,-28,-26,-24,-22,-20,-18,-16,-14,-12,-10,-8,-6,-4,-2,0,2,4,6,8,10,12,14], "labels": false, "title": null, "tickSize": {"condition": {"test": "datum.value % 10 === 0", "value": -5}, "value": -2.5}}},
  "y": {"field": "y", "type": "quantitative", "scale": {"domain": [-0.07, 1.17], "nice": false, "zero": false},
   "axis": {"orient": "left", "values": [0, 0.2, 0.4, 0.6, 0.8, 1], "labelExpr": "datum.value === 0 ? '0' : datum.value === 1 ? '1' : ''", "labelOverlap": false, "title": "Flux (arb.)", "tickSize": {"condition": {"test": "datum.value === 0 || datum.value === 1", "value": -5}, "value": -2.5}}},
  "strokeDash": {"field": "s", "type": "nominal", "scale": {"domain": ["I", "L", "V"], "range": [[1, 0], [3.7, 1.6], [1, 1.65]]}, "legend": {"title": null, "symbolType": "M-1.45,0H1.45", "symbolSize": 225}},
  "opacity": {"field": "s", "type": "nominal", "scale": {"domain": ["I", "L", "V"], "range": [1, 1, 0.55]}, "legend": {"title": null, "symbolType": "M-1.45,0H1.45", "symbolSize": 225}}}},
{"data": {"name": "one"}, "mark": {"type": "text", "text": "(b) cW", "align": "left", "baseline": "middle", "fontSize": 13},
 "encoding": {"x": {"datum": -35.4, "type": "quantitative",
   "axis": {"orient": "top", "values": [-36,-34,-32,-30,-28,-26,-24,-22,-20,-18,-16,-14,-12,-10,-8,-6,-4,-2,0,2,4,6,8,10,12,14], "labels": false, "title": null, "tickSize": {"condition": {"test": "datum.value % 10 === 0", "value": -5}, "value": -2.5}}},
  "y": {"datum": 0.95, "type": "quantitative",
   "axis": {"orient": "right", "values": [0, 0.2, 0.4, 0.6, 0.8, 1], "labels": false, "title": null, "tickSize": {"condition": {"test": "datum.value === 0 || datum.value === 1", "value": -5}, "value": -2.5}}}}},
{"data": {"name": "one"}, "mark": {"type": "text", "text": "573", "align": "left", "baseline": "middle", "fontSize": 13},
 "encoding": {"x": {"datum": -35.4, "type": "quantitative", "axis": null}, "y": {"datum": 0.47, "type": "quantitative", "axis": null}}},
{"data": {"name": "one"}, "mark": {"type": "text", "text": "P", "align": "left", "baseline": "middle", "fontSize": 13, "fontStyle": "italic", "dx": 25},
 "encoding": {"x": {"datum": -35.4, "type": "quantitative", "axis": null}, "y": {"datum": 0.47, "type": "quantitative", "axis": null}}},
{"data": {"name": "one"}, "mark": {"type": "text", "text": "0", "align": "left", "baseline": "middle", "fontSize": 9, "dx": 33, "dy": 4},
 "encoding": {"x": {"datum": -35.4, "type": "quantitative", "axis": null}, "y": {"datum": 0.47, "type": "quantitative", "axis": null}}}
],
"resolve": {"axis": {"x": "independent", "y": "independent"}}
},
{
"width": 255, "height": 75,
"layer": [
{"data": {"name": "prof"}, "transform": [{"filter": "datum.p === 'cB'"}], "mark": {"type": "line", "color": "#000000", "strokeWidth": 1.2, "interpolate": "monotone"},
 "encoding": {"x": {"field": "x", "type": "quantitative", "scale": {"domain": [-36.6, 14.4], "nice": false, "zero": false},
   "axis": {"orient": "bottom", "values": [-36,-34,-32,-30,-28,-26,-24,-22,-20,-18,-16,-14,-12,-10,-8,-6,-4,-2,0,2,4,6,8,10,12,14], "labels": false, "title": null, "tickSize": {"condition": {"test": "datum.value % 10 === 0", "value": -5}, "value": -2.5}}},
  "y": {"field": "y", "type": "quantitative", "scale": {"domain": [-0.13, 1.25], "nice": false, "zero": false},
   "axis": {"orient": "left", "values": [0, 0.2, 0.4, 0.6, 0.8, 1, 1.2], "labelExpr": "datum.value === 0 ? '0' : datum.value === 1 ? '1' : ''", "labelOverlap": false, "title": "Flux (arb.)", "tickSize": {"condition": {"test": "datum.value === 0 || datum.value === 1", "value": -5}, "value": -2.5}}},
  "strokeDash": {"field": "s", "type": "nominal", "scale": {"domain": ["I", "L", "V"], "range": [[1, 0], [3.7, 1.6], [1, 1.65]]}, "legend": {"title": null, "symbolType": "M-1.45,0H1.45", "symbolSize": 225}},
  "opacity": {"field": "s", "type": "nominal", "scale": {"domain": ["I", "L", "V"], "range": [1, 1, 0.55]}, "legend": {"title": null, "symbolType": "M-1.45,0H1.45", "symbolSize": 225}}}},
{"data": {"name": "one"}, "mark": {"type": "text", "text": "(c) cB", "align": "left", "baseline": "middle", "fontSize": 13},
 "encoding": {"x": {"datum": -35.4, "type": "quantitative",
   "axis": {"orient": "top", "values": [-36,-34,-32,-30,-28,-26,-24,-22,-20,-18,-16,-14,-12,-10,-8,-6,-4,-2,0,2,4,6,8,10,12,14], "labels": false, "title": null, "tickSize": {"condition": {"test": "datum.value % 10 === 0", "value": -5}, "value": -2.5}}},
  "y": {"datum": 1.01, "type": "quantitative",
   "axis": {"orient": "right", "values": [0, 0.2, 0.4, 0.6, 0.8, 1, 1.2], "labels": false, "title": null, "tickSize": {"condition": {"test": "datum.value === 0 || datum.value === 1", "value": -5}, "value": -2.5}}}}},
{"data": {"name": "one"}, "mark": {"type": "text", "text": "464", "align": "left", "baseline": "middle", "fontSize": 13},
 "encoding": {"x": {"datum": -35.4, "type": "quantitative", "axis": null}, "y": {"datum": 0.49, "type": "quantitative", "axis": null}}},
{"data": {"name": "one"}, "mark": {"type": "text", "text": "P", "align": "left", "baseline": "middle", "fontSize": 13, "fontStyle": "italic", "dx": 25},
 "encoding": {"x": {"datum": -35.4, "type": "quantitative", "axis": null}, "y": {"datum": 0.49, "type": "quantitative", "axis": null}}},
{"data": {"name": "one"}, "mark": {"type": "text", "text": "0", "align": "left", "baseline": "middle", "fontSize": 9, "dx": 33, "dy": 4},
 "encoding": {"x": {"datum": -35.4, "type": "quantitative", "axis": null}, "y": {"datum": 0.49, "type": "quantitative", "axis": null}}}
],
"resolve": {"axis": {"x": "independent", "y": "independent"}}
},
{
"width": 255, "height": 75,
"layer": [
{"data": {"name": "prof"}, "transform": [{"filter": "datum.p === 'A'"}], "mark": {"type": "line", "color": "#ff0000", "strokeWidth": 1.2, "interpolate": "monotone"},
 "encoding": {"x": {"field": "x", "type": "quantitative", "scale": {"domain": [-36.6, 14.4], "nice": false, "zero": false},
   "axis": {"orient": "bottom", "values": [-36,-34,-32,-30,-28,-26,-24,-22,-20,-18,-16,-14,-12,-10,-8,-6,-4,-2,0,2,4,6,8,10,12,14], "labels": false, "title": null, "tickSize": {"condition": {"test": "datum.value % 10 === 0", "value": -5}, "value": -2.5}}},
  "y": {"field": "y", "type": "quantitative", "scale": {"domain": [-0.07, 1.21], "nice": false, "zero": false},
   "axis": {"orient": "left", "values": [0, 0.2, 0.4, 0.6, 0.8, 1, 1.2], "labelExpr": "datum.value === 0 ? '0' : datum.value === 1 ? '1' : ''", "labelOverlap": false, "title": "Flux (arb.)", "tickSize": {"condition": {"test": "datum.value === 0 || datum.value === 1", "value": -5}, "value": -2.5}}},
  "strokeDash": {"field": "s", "type": "nominal", "scale": {"domain": ["I", "L", "V"], "range": [[1, 0], [3.7, 1.6], [1, 1.65]]}, "legend": {"title": null, "symbolType": "M-1.45,0H1.45", "symbolSize": 225}},
  "opacity": {"field": "s", "type": "nominal", "scale": {"domain": ["I", "L", "V"], "range": [1, 1, 0.55]}, "legend": {"title": null, "symbolType": "M-1.45,0H1.45", "symbolSize": 225}}}},
{"data": {"name": "one"}, "mark": {"type": "text", "text": "(d) A", "align": "left", "baseline": "middle", "fontSize": 13},
 "encoding": {"x": {"datum": -35.4, "type": "quantitative",
   "axis": {"orient": "top", "values": [-36,-34,-32,-30,-28,-26,-24,-22,-20,-18,-16,-14,-12,-10,-8,-6,-4,-2,0,2,4,6,8,10,12,14], "labels": false, "title": null, "tickSize": {"condition": {"test": "datum.value % 10 === 0", "value": -5}, "value": -2.5}}},
  "y": {"datum": 1.02, "type": "quantitative",
   "axis": {"orient": "right", "values": [0, 0.2, 0.4, 0.6, 0.8, 1, 1.2], "labels": false, "title": null, "tickSize": {"condition": {"test": "datum.value === 0 || datum.value === 1", "value": -5}, "value": -2.5}}}}},
{"data": {"name": "one"}, "mark": {"type": "text", "text": "121", "align": "left", "baseline": "middle", "fontSize": 13},
 "encoding": {"x": {"datum": -35.4, "type": "quantitative", "axis": null}, "y": {"datum": 0.5, "type": "quantitative", "axis": null}}},
{"data": {"name": "one"}, "mark": {"type": "text", "text": "P", "align": "left", "baseline": "middle", "fontSize": 13, "fontStyle": "italic", "dx": 25},
 "encoding": {"x": {"datum": -35.4, "type": "quantitative", "axis": null}, "y": {"datum": 0.5, "type": "quantitative", "axis": null}}},
{"data": {"name": "one"}, "mark": {"type": "text", "text": "0", "align": "left", "baseline": "middle", "fontSize": 9, "dx": 33, "dy": 4},
 "encoding": {"x": {"datum": -35.4, "type": "quantitative", "axis": null}, "y": {"datum": 0.5, "type": "quantitative", "axis": null}}}
],
"resolve": {"axis": {"x": "independent", "y": "independent"}}
},
{
"width": 255, "height": 75,
"layer": [
{"data": {"name": "prof"}, "transform": [{"filter": "datum.p === 'Af'"}], "mark": {"type": "line", "color": "#0000ff", "strokeWidth": 1.2, "interpolate": "monotone"},
 "encoding": {"x": {"field": "x", "type": "quantitative", "scale": {"domain": [-36.6, 14.4], "nice": false, "zero": false},
   "axis": {"orient": "bottom", "values": [-36,-34,-32,-30,-28,-26,-24,-22,-20,-18,-16,-14,-12,-10,-8,-6,-4,-2,0,2,4,6,8,10,12,14], "labelExpr": "datum.value % 10 === 0 ? datum.label : ''", "labelOverlap": false, "labelFlush": false, "labelPadding": 8, "titlePadding": 2, "title": "Longitude ( ° )", "tickSize": {"condition": {"test": "datum.value % 10 === 0", "value": -5}, "value": -2.5}}},
  "y": {"field": "y", "type": "quantitative", "scale": {"domain": [-0.105, 0.8], "nice": false, "zero": false},
   "axis": {"orient": "left", "values": [-0.1, 0, 0.1, 0.2, 0.3, 0.4, 0.5, 0.6, 0.7], "labelExpr": "datum.value === 0 ? '0.0' : datum.value === 0.5 ? '0.5' : ''", "labelOverlap": false, "title": "Flux (arb.)", "tickSize": {"condition": {"test": "datum.value === 0 || datum.value === 0.5", "value": -5}, "value": -2.5}}},
  "strokeDash": {"field": "s", "type": "nominal", "scale": {"domain": ["I", "L", "V"], "range": [[1, 0], [3.7, 1.6], [1, 1.65]]}, "legend": {"title": null, "symbolType": "M-1.45,0H1.45", "symbolSize": 225}},
  "opacity": {"field": "s", "type": "nominal", "scale": {"domain": ["I", "L", "V"], "range": [1, 1, 0.55]}, "legend": {"title": null, "symbolType": "M-1.45,0H1.45", "symbolSize": 225}}}},
{"data": {"name": "one"}, "mark": {"type": "text", "text": "(e) Af", "align": "left", "baseline": "middle", "fontSize": 13},
 "encoding": {"x": {"datum": -35.4, "type": "quantitative",
   "axis": {"orient": "top", "values": [-36,-34,-32,-30,-28,-26,-24,-22,-20,-18,-16,-14,-12,-10,-8,-6,-4,-2,0,2,4,6,8,10,12,14], "labels": false, "title": null, "tickSize": {"condition": {"test": "datum.value % 10 === 0", "value": -5}, "value": -2.5}}},
  "y": {"datum": 0.64, "type": "quantitative",
   "axis": {"orient": "right", "values": [-0.1, 0, 0.1, 0.2, 0.3, 0.4, 0.5, 0.6, 0.7], "labels": false, "title": null, "tickSize": {"condition": {"test": "datum.value === 0 || datum.value === 0.5", "value": -5}, "value": -2.5}}}}},
{"data": {"name": "one"}, "mark": {"type": "text", "text": "122", "align": "left", "baseline": "middle", "fontSize": 13},
 "encoding": {"x": {"datum": -35.4, "type": "quantitative", "axis": null}, "y": {"datum": 0.31, "type": "quantitative", "axis": null}}},
{"data": {"name": "one"}, "mark": {"type": "text", "text": "P", "align": "left", "baseline": "middle", "fontSize": 13, "fontStyle": "italic", "dx": 25},
 "encoding": {"x": {"datum": -35.4, "type": "quantitative", "axis": null}, "y": {"datum": 0.31, "type": "quantitative", "axis": null}}},
{"data": {"name": "one"}, "mark": {"type": "text", "text": "0", "align": "left", "baseline": "middle", "fontSize": 9, "dx": 33, "dy": 4},
 "encoding": {"x": {"datum": -35.4, "type": "quantitative", "axis": null}, "y": {"datum": 0.31, "type": "quantitative", "axis": null}}}
],
"resolve": {"axis": {"x": "independent", "y": "independent"}}
}
],
"config": {
 "font": "DejaVu Sans",
 "concat": {"spacing": 0},
 "view": {"stroke": "#333333", "strokeWidth": 1},
 "axis": {"grid": false, "domain": false, "tickColor": "#333333", "tickWidth": 0.8, "labelFont": "DejaVu Sans", "labelFontSize": 13, "labelColor": "#000000", "titleFont": "DejaVu Sans", "titleFontSize": 13, "titleFontWeight": "normal", "titleColor": "#000000", "labelPadding": 9, "titlePadding": 4},
 "legend": {"orient": "top-right", "offset": 5, "padding": 3, "fillColor": "rgba(255,255,255,0.85)", "strokeColor": "#cccccc", "cornerRadius": 3, "symbolStrokeWidth": 1.5, "labelFont": "DejaVu Sans", "labelFontSize": 13, "labelColor": "#000000", "rowPadding": 0, "labelOffset": 9},
 "text": {"font": "DejaVu Sans", "color": "#000000"}
}
}
